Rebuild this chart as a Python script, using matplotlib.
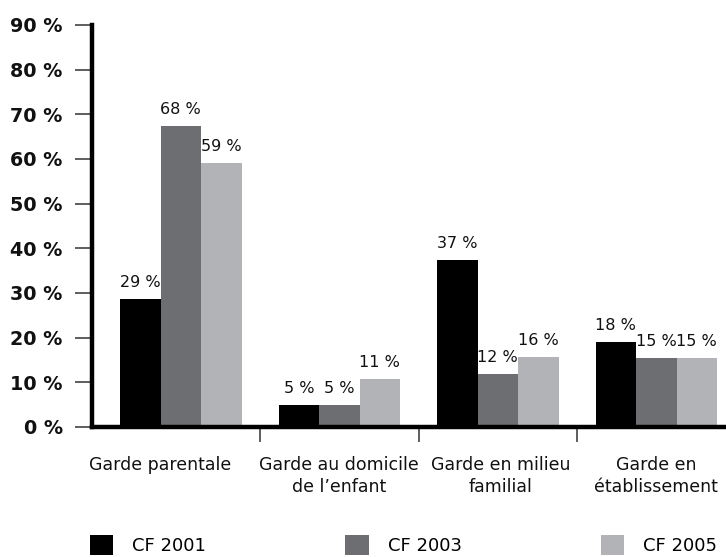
import matplotlib
matplotlib.use("Agg")
import matplotlib.pyplot as plt
import numpy as np

plt.rcParams['font.family'] = ['DejaVu Sans Condensed', 'Liberation Sans Narrow', 'DejaVu Sans']

# data
categories = ["Garde parentale", "Garde au domicile\nde l\u2019enfant",
              "Garde en milieu\nfamilial", "Garde en\n\u00e9tablissement"]
series = ["CF 2001", "CF 2003", "CF 2005"]
cf2001 = [28.6, 5.0, 37.3, 19.0]
cf2003 = [67.4, 5.0, 11.8, 15.5]
cf2005 = [59.2, 10.7, 15.6, 15.5]
labels2001 = ["29 %", "5 %", "37 %", "18 %"]
labels2003 = ["68 %", "5 %", "12 %", "15 %"]
labels2005 = ["59 %", "11 %", "16 %", "15 %"]
yticks = [0, 10, 20, 30, 40, 50, 60, 70, 80, 90]

colors = ["#000000", "#6d6e71", "#b1b3b6"]

fig = plt.figure(figsize=(7.26, 5.57), dpi=100)
W, H = 726, 557
ax = fig.add_axes([92 / W, (H - 427) / H, (W - 92) / W, (427 - 25) / H])

x = np.arange(len(categories))
width = 0.2555
values = [cf2001, cf2003, cf2005]
texts = [labels2001, labels2003, labels2005]
for i, (vals, labs) in enumerate(zip(values, texts)):
    bars = ax.bar(x + (i - 1) * width, vals, width, color=colors[i],
                  label=series[i], zorder=2)
    for b, t in zip(bars, labs):
        ax.annotate(t, (b.get_x() + b.get_width() / 2, b.get_height()),
                    xytext=(0, 8.6), textcoords="offset points",
                    ha="center", va="baseline", fontsize=11.5, color="#111111")

ax.set_xlim(-0.56, 3.44)
ax.set_ylim(0, 90)

# y axis
ax.set_yticks(yticks)
ax.set_yticklabels([f"{v} %" for v in yticks], fontweight="bold", fontsize=13.8,
                   color="#111111")
ax.tick_params(axis="y", direction="out", length=12, width=1.1,
               color="#333333", pad=9)

# x axis: ticks between groups, labels placed as text
ax.set_xticks([0.5, 1.5, 2.5])
ax.set_xticklabels([])
ax.tick_params(axis="x", direction="out", length=11, width=1.1, color="#333333")
label_shift = [-0.13, 0.0, 0.02, 0.0]
for xi, cat, s in zip(x, categories, label_shift):
    ax.annotate(cat, (xi + s, 0), xycoords=("data", "axes fraction"),
                xytext=(0, -21), textcoords="offset points",
                ha="center", va="top", fontsize=12.5, linespacing=1.3,
                multialignment="center", color="#111111")

for side in ("top", "right"):
    ax.spines[side].set_visible(False)
for side in ("left", "bottom"):
    ax.spines[side].set_linewidth(3.2)
    ax.spines[side].set_color("black")
    ax.spines[side].set_zorder(3)

ax.legend(loc="upper left", bbox_to_anchor=(90 / W, 22 / H),
          bbox_transform=fig.transFigure, ncol=3, frameon=False,
          fontsize=13, handlelength=1.3, handleheight=1.3,
          handletextpad=1.05, columnspacing=7.7, borderpad=0,
          borderaxespad=0)

fig.savefig("out.png", dpi=100)
